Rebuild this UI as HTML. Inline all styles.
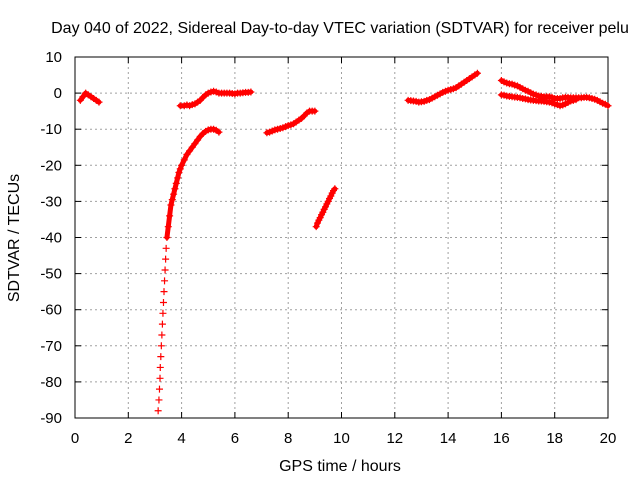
<!DOCTYPE html>
<html><head><meta charset="utf-8"><style>
body{margin:0;background:#fff}
svg{display:block;font-family:"Liberation Sans",sans-serif}
</style></head><body>
<svg id="chart" width="640" height="480">
<rect x="0" y="0" width="640" height="480" fill="#fff"/>
<text x="340" y="33" font-size="16" text-anchor="middle">Day 040 of 2022, Sidereal Day-to-day VTEC variation (SDTVAR) for receiver pelu</text>
<g id="grid"></g>
<g id="ticks"></g>
<rect x="75" y="57" width="533" height="361" fill="none" stroke="#000"/>
<g id="marks"></g>
<text x="340" y="471" font-size="16" text-anchor="middle">GPS time / hours</text>
<text transform="translate(19,238) rotate(-90)" font-size="16" text-anchor="middle">SDTVAR / TECUs</text>
</svg>
<script>
const xTicks=[0,2,4,6,8,10,12,14,16,18,20];
const yTicks=[10,0,-10,-20,-30,-40,-50,-60,-70,-80,-90];
const seg1=[[0.2,-2],[0.3,-1],[0.4,0],[0.5,-0.5],[0.6,-1],[0.7,-1.5],[0.8,-2],[0.9,-2.5]];
const seg2=[[3.12,-88],[3.15,-85],[3.17,-82],[3.19,-79],[3.2,-76],[3.22,-73],[3.24,-70],[3.26,-67],[3.28,-64],[3.3,-61],[3.32,-58],[3.34,-55],[3.36,-52],[3.38,-49],[3.4,-46],[3.42,-43],[3.45,-40],[3.5,-37],[3.55,-34],[3.6,-31],[3.65,-29.5],[3.7,-28],[3.75,-26.5],[3.8,-25],[3.85,-23.5],[3.9,-22],[3.95,-21],[4.0,-20],[4.1,-18.5],[4.2,-17],[4.3,-16],[4.4,-15],[4.5,-14],[4.6,-13],[4.7,-12],[4.8,-11.2],[4.9,-10.6],[5.0,-10.2],[5.1,-10],[5.2,-10],[5.3,-10.3],[5.4,-10.8]];
const seg3=[[3.95,-3.5],[4.1,-3.5],[4.2,-3.3],[4.3,-3.5],[4.4,-3.2],[4.5,-3],[4.6,-2.5],[4.7,-2],[4.8,-1.2],[4.9,-0.5],[5.0,0],[5.1,0.3],[5.2,0.5],[5.3,0.3],[5.4,0],[5.5,0],[5.6,0],[5.7,0],[5.8,0],[5.9,-0.1],[6.0,-0.2],[6.1,0],[6.2,0],[6.3,0.1],[6.4,0.2],[6.5,0.2],[6.6,0.3]];
const seg4=[[7.2,-11],[7.3,-10.8],[7.4,-10.5],[7.5,-10.2],[7.6,-10],[7.7,-9.8],[7.8,-9.6],[7.9,-9.3],[8.0,-9],[8.1,-8.8],[8.2,-8.5],[8.3,-8],[8.4,-7.5],[8.5,-7],[8.6,-6.3],[8.7,-5.5],[8.8,-5],[8.9,-5],[9.0,-5]];
const seg5=[[9.05,-37],[9.1,-36],[9.15,-35.2],[9.2,-34.5],[9.25,-33.7],[9.3,-33],[9.35,-32.2],[9.4,-31.5],[9.45,-30.7],[9.5,-30],[9.55,-29.2],[9.6,-28.5],[9.65,-27.7],[9.7,-27],[9.75,-26.5]];
const seg6=[[12.5,-2],[12.6,-2.1],[12.7,-2.2],[12.8,-2.3],[12.9,-2.5],[13.0,-2.4],[13.1,-2.3],[13.2,-2],[13.3,-1.8],[13.4,-1.4],[13.5,-1],[13.6,-0.6],[13.7,-0.2],[13.8,0.2],[13.9,0.5],[14.0,0.8],[14.1,1],[14.2,1.2],[14.3,1.5],[14.4,2],[14.5,2.5],[14.6,3],[14.7,3.5],[14.8,4],[14.9,4.5],[15.0,5],[15.1,5.5]];
const seg7=[[16.0,3.5],[16.1,3.1],[16.2,2.8],[16.3,2.6],[16.4,2.5],[16.5,2.2],[16.6,2],[16.7,1.6],[16.8,1.2],[16.9,0.8],[17.0,0.5],[17.1,0.1],[17.2,-0.3],[17.3,-0.5],[17.4,-0.8],[17.5,-0.9],[17.6,-1],[17.7,-1],[17.8,-1],[17.9,-1.2],[18.0,-1.5],[18.1,-1.5],[18.2,-1.5],[18.3,-1.3],[18.4,-1.2],[18.5,-1.2],[18.6,-1.3],[18.7,-1.3],[18.8,-1.3],[18.9,-1.3],[19.0,-1.3],[19.1,-1.2],[19.2,-1.2],[19.3,-1.3],[19.4,-1.5],[19.5,-1.7],[19.6,-2],[19.7,-2.4],[19.8,-2.8],[19.9,-3.1],[20.0,-3.5]];
const seg8=[[16.0,-0.5],[16.1,-0.6],[16.2,-0.8],[16.3,-0.9],[16.4,-1],[16.5,-1.1],[16.6,-1.2],[16.7,-1.3],[16.8,-1.5],[16.9,-1.6],[17.0,-1.8],[17.1,-1.9],[17.2,-2],[17.3,-2.1],[17.4,-2.2],[17.5,-2.2],[17.6,-2.3],[17.7,-2.4],[17.8,-2.5],[17.9,-2.7],[18.0,-3],[18.1,-3.2],[18.2,-3.5],[18.3,-3.3],[18.4,-3],[18.5,-2.6],[18.6,-2.2],[18.7,-2],[18.8,-1.8]];
const segments=[seg1,seg2,seg3,seg4,seg5,seg6,seg7,seg8];
const NS='http://www.w3.org/2000/svg';
const X0=75,X1=608,Y0=57,Y1=418;
function xs(v){return X0+(v-0)/(20-0)*(X1-X0);}
function ys(v){return Y0+(10-v)/(10-(-90))*(Y1-Y0);}
function mk(t,a,p){const e=document.createElementNS(NS,t);for(const k in a)e.setAttribute(k,a[k]);p.appendChild(e);return e;}
const grid=document.getElementById('grid'),ticks=document.getElementById('ticks'),marks=document.getElementById('marks');
xTicks.forEach(v=>{const x=xs(v);
 if(v>0&&v<20){const g=mk('line',{x1:x,x2:x,y1:Y0,y2:Y1,stroke:'#a0a0a0','stroke-dasharray':'2,3'},grid);
 
 }
 mk('line',{x1:x,x2:x,y1:Y1,y2:Y1-6,stroke:'#000'},ticks);mk('line',{x1:x,x2:x,y1:Y0,y2:Y0+6,stroke:'#000'},ticks);
 const t=mk('text',{x:x,y:Y1+25,'font-size':15,'text-anchor':'middle'},ticks);t.textContent=v;
 
 });
yTicks.forEach(v=>{const y=ys(v);
 if(v<10&&v>-90){const g=mk('line',{x1:X0,x2:X1,y1:y,y2:y,stroke:'#a0a0a0','stroke-dasharray':'2,3'},grid);
 
 }
 mk('line',{x1:X0,x2:X0+6,y1:y,y2:y,stroke:'#000'},ticks);mk('line',{x1:X1,x2:X1-6,y1:y,y2:y,stroke:'#000'},ticks);
 const t=mk('text',{x:62,y:y+5,'font-size':15,'text-anchor':'end'},ticks);t.textContent=v;
 
 });
segments.forEach(s=>{
 for(let i=1;i<s.length;i++){
  const xa=xs(s[i-1][0]),ya=ys(s[i-1][1]),xb=xs(s[i][0]),yb=ys(s[i][1]);
  if(s[i][1]>-40){
   const l=mk('line',{x1:xa,y1:ya,x2:xb,y2:yb,stroke:'#f00','stroke-width':5,'stroke-linecap':'round'},marks);
   
   
  }
 }
 s.forEach(p=>{const x=xs(p[0]),y=ys(p[1]);
 const m=mk('path',{d:`M${x-3.5},${y}H${x+3.5}M${x},${y-3.5}V${y+3.5}`,stroke:'#f00','stroke-width':1.2},marks);
 
 });
});
</script>
</body></html>
